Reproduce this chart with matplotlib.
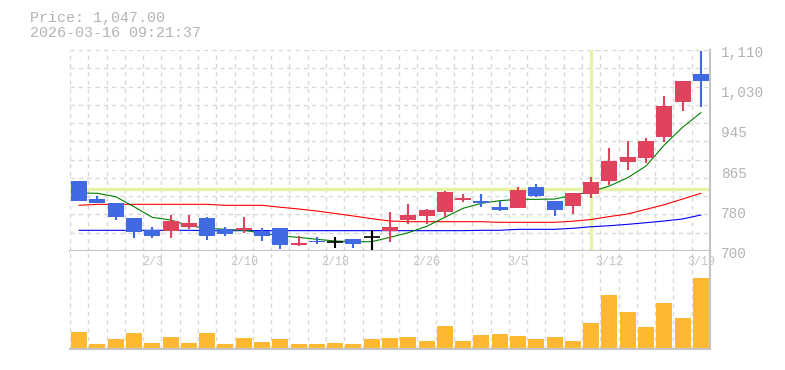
import numpy as np
import matplotlib
matplotlib.use('Agg')
import matplotlib.pyplot as plt
from matplotlib import transforms

# daily candles (35 sessions)
opens = [842.8, 806, 797.3, 767.3, 742.8, 741.4, 749.5, 767.3, 745, 742.8,
         741.4, 747, 712.8, 720.4, 719, 724.4, 728, 740.8, 763.2, 772,
         780, 804, 802, 790.4, 788.3, 831.1, 802, 792.4, 816.2, 843.4,
         882.1, 890.3, 933.2, 1004.5, 1061]
highs = [842.8, 812, 797.3, 767.3, 749, 773.4, 773, 769, 749, 769,
         747.5, 747, 730.6, 728.4, 728.4, 724.4, 742, 779.5, 795.8, 785.6,
         822.4, 816, 816, 802, 831.1, 836.7, 802, 818.3, 851.5, 910,
         924.4, 930.5, 1016.2, 1046.8, 1107.3]
lows = [802.6, 798.5, 763.3, 727, 727, 727, 745, 723, 731, 737.3,
        721, 703.4, 710.9, 713.7, 705.5, 705.5, 702, 717.8, 754.5, 754.5,
        770, 799, 790.4, 782.3, 788.3, 810.8, 772, 775, 808, 834.6,
        865.2, 879.5, 922.3, 985.6, 994.3]
closes = [802.6, 798.5, 770, 739.4, 731.2, 761, 757, 731.2, 735.3, 746.9,
          731.2, 712.3, 717, 717.8, 719, 713.6, 728, 749, 773.4, 783.6,
          820.3, 808, 797.3, 784.3, 824.4, 812.8, 783.6, 818.3, 840.7, 884.2,
          892.3, 925, 995.8, 1046.8, 1047]
volume = [170, 50, 100, 160, 60, 120, 60, 160, 50, 110,
          70, 100, 50, 50, 60, 50, 100, 110, 120, 80,
          230, 80, 140, 150, 130, 100, 120, 80, 260, 540,
          370, 220, 460, 310, 710]

# moving averages
ma_short = [818.3, 817.7, 810.7, 790.3, 768.7, 763.2, 751.6, 746.3, 744.2, 742.2,
            736.7, 730.6, 727.9, 723.8, 720.4, 719, 719, 727.9, 737.3, 750.3,
            768.7, 787.1, 797.3, 802.6, 805.4, 805.4, 806, 813.6, 821, 832.6,
            849.5, 873.4, 916.2, 952.3, 982.1]
ma_mid = [793.2, 795.2, 795.2, 795.2, 795.2, 795.2, 795.2, 795.2, 793.2, 793.2,
          793.2, 789.3, 785.7, 781.6, 776.5, 771.4, 765.9, 761.2, 759.8, 759.8,
          759.8, 759.8, 759.8, 758.5, 758.5, 758.5, 758.5, 760.8, 764.2, 770.3,
          775.5, 785, 794.4, 806, 817.7]
ma_long = [742.2, 742.2, 742.2, 742.2, 742.2, 742.2, 742.2, 741.5, 741.5, 741.5,
           741.5, 741.5, 741.5, 741.5, 741.5, 741.5, 741.5, 741.5, 741.5, 741.5,
           741.5, 741.5, 742.2, 742.2, 744.2, 744.2, 744.2, 746.3, 749.5, 751.6,
           754.4, 757.7, 761.2, 765.3, 773.4]

date_pos = [4, 9, 14, 19, 24, 29, 34]
date_lbl = ['2/3', '2/10', '2/18', '2/26', '3/5', '3/12', '3/19']

cross_idx = 28
cross_price = 826.5
stamp = '2026-03-16 09:21:37'

ymin, ymax = 700, 1110

W, H = 785, 370
fig = plt.figure(figsize=(W / 100, H / 100), dpi=100)
ax = fig.add_axes([70 / W, 1 - 251 / H, 640 / W, 201 / H])
axv = fig.add_axes([70 / W, 1 - 349 / H, 640 / W, 98 / H])

n = len(closes)
x = np.arange(n)
o = np.array(opens)
c = np.array(closes)

RED = '#e0435e'
BLUE = '#4169e1'
cols = [RED if c[i] > o[i] else (BLUE if c[i] < o[i] else 'black') for i in range(n)]

for a in (ax, axv):
    a.set_xlim(-0.5, n - 0.5)
    a.set_xticks([])
    a.set_yticks([])
    a.set_xticks(np.arange(-0.5, n, 1), minor=True)
    a.tick_params(which='both', length=0)
    a.grid(which='minor', color='#d8d8d8', lw=1, ls=(0, (3, 3)))
    a.set_axisbelow(True)
    for s in ('left', 'top'):
        a.spines[s].set_visible(False)
    for s in ('bottom', 'right'):
        a.spines[s].set_color('#c4c4c4')
        a.spines[s].set_linewidth(1.5)

ax.set_ylim(ymin, ymax)
ax.set_yticks(np.linspace(ymin, ymax, 12), minor=True)

# crosshair
ax.axhline(cross_price, color='#e6f2a6', lw=2.4, zorder=1)
ax.axvline(cross_idx, color='#e6f2a6', lw=2.4, zorder=1)

# moving averages
ax.plot(x, ma_long, color='#0000ff', lw=0.8, zorder=2)
ax.plot(x, ma_mid, color='#ff0000', lw=0.8, zorder=2)
ax.plot(x, ma_short, color='#008000', lw=0.8, zorder=2)

# candles
ax.vlines(x, lows, highs, colors=cols, lw=1.5, zorder=3)
ax.bar(x, np.abs(c - o), bottom=np.minimum(o, c), width=0.87, color=cols, zorder=4)
doji = c == o
ax.hlines(c[doji], x[doji] - 0.43, x[doji] + 0.43, colors='black', lw=1.2, zorder=4)

# price labels on the right
lab_tr = transforms.offset_copy(ax.get_yaxis_transform(), fig, x=11, y=-3, units='dots')
for v in np.linspace(ymin, ymax, 6):
    ax.text(1.0, v, f'{int(round(v / 5) * 5):,}', transform=lab_tr, ha='left', va='center',
            family='Liberation Mono', fontsize=10.4, color='#b4b4b4')

# volume
axv.bar(x, volume, width=0.87, color='#ffb833', zorder=2)
axv.set_ylim(0, 980)

# date labels
dt_tr = transforms.blended_transform_factory(axv.transData, axv.transAxes)
for p, s in zip(date_pos, date_lbl):
    axv.text(p, 1 - 11 / 98, s, transform=dt_tr, ha='center', va='center',
             family='Liberation Mono', fontsize=8.5, color='#c4c4c4', zorder=5)

# header
fig.text(30 / W, 1 - 18 / H, f'Price: {closes[-1]:,.2f}', family='Liberation Mono',
         fontsize=10.8, color='#b4b4b4', va='center')
fig.text(30 / W, 1 - 33 / H, stamp, family='Liberation Mono',
         fontsize=10.8, color='#b4b4b4', va='center')

fig.savefig('out.png', dpi=100)
